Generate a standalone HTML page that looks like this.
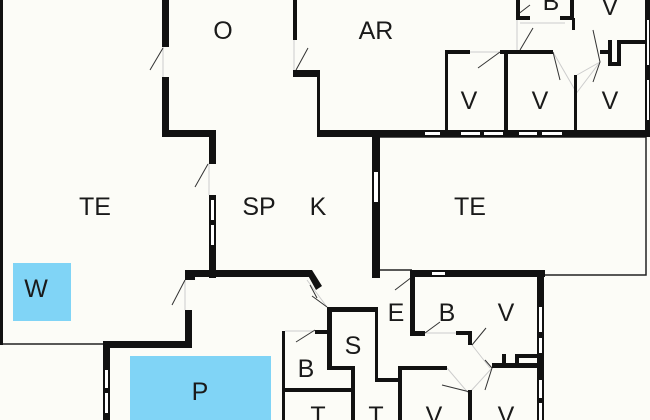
<!DOCTYPE html>
<html><head><style>
html,body{margin:0;padding:0;background:#fcfcf7;}
svg{display:block}
text{font-family:"Liberation Sans",sans-serif;font-size:25px;fill:#1a1a1a;text-anchor:middle;}
</style></head><body>
<svg width="650" height="420" viewBox="0 0 650 420" xmlns="http://www.w3.org/2000/svg">
<rect width="650" height="420" fill="#fcfcf7"/>
<!-- blue areas -->
<rect x="13" y="263" width="58" height="58" fill="#80d4f6"/>
<rect x="130" y="356" width="141" height="64" fill="#80d4f6"/>
<!-- thin outlines -->
<g stroke="#222" stroke-width="1.5" fill="none">
<path d="M1 0 V344 H104"/>
<path d="M380 137 H646 V275 H545"/>
<path d="M380 270 H412"/>
</g>
<!-- light door gap lines -->
<g stroke="#ccc" stroke-width="1" fill="none">
<path d="M163 47 V77 M209 163 V195 M294 40 V70 M185 280 V310"/>
<path d="M470 52 H500 M517 20 V52 M520 23 H565 M553 52 L575 90 M577 75 L600 62 M600 62 L575 95"/>
<path d="M307 280 L327 307 M328 307 V330 M285 331 H315 M425 333 H456 M472 345 L490 368 M447 368 L470 395 M470 392 L492 368"/>
</g>
<!-- door swing lines -->
<g stroke="#333" stroke-width="1" fill="none">
<path d="M163 48 L150 70 M208 164 L195 187 M308 48 L296 70 M185 280 L172 305"/>
<path d="M500 52 L478 68 M533 28 L520 50 M553 52 L560 80 M593 30 L600 62 L593 82 M530 5 L517 15"/>
<path d="M317 298 L310 285 M327 307 L312 296 M315 330 L296 342 M412 277 L395 290 M425 333 L440 322 M472 345 L486 328 M485 360 L492 368 L485 390 M470 392 L442 385"/>
</g>
<!-- walls -->
<g fill="#111">
<rect x="0" y="0" width="3" height="345"/>
<rect x="162" y="0" width="7" height="47"/>
<rect x="162" y="77" width="7" height="60"/>
<rect x="162" y="130" width="54" height="7"/>
<rect x="209" y="130" width="7" height="34"/>
<rect x="209" y="195" width="7" height="83"/>
<rect x="293" y="0" width="4" height="40"/>
<rect x="293" y="70" width="27" height="7"/>
<rect x="317" y="70" width="3" height="67"/>
<rect x="317" y="130" width="333" height="7"/>
<rect x="372" y="130" width="8" height="148"/>
<rect x="645" y="0" width="5" height="137"/>
<!-- upper right rooms -->
<rect x="445" y="50" width="25" height="4"/>
<rect x="445" y="50" width="3" height="82"/>
<rect x="500" y="50" width="53" height="4"/>
<rect x="504" y="50" width="4" height="82"/>
<rect x="574" y="75" width="3" height="57"/>
<rect x="516" y="0" width="4" height="20"/>
<rect x="516" y="16" width="14" height="4"/>
<rect x="560" y="16" width="12" height="4"/>
<rect x="570" y="0" width="4" height="20"/>
<rect x="572" y="18" width="3" height="12"/>
<rect x="600" y="50" width="12" height="4"/>
<rect x="608" y="40" width="4" height="25"/>
<rect x="608" y="62" width="12" height="4"/>
<rect x="617" y="40" width="4" height="26"/>
<rect x="617" y="40" width="30" height="4"/>
<!-- lower left -->
<rect x="185" y="270" width="125" height="7"/>
<polygon points="305,270 312,270 322,286 316,290"/>
<rect x="185" y="270" width="10" height="10"/>
<rect x="185" y="310" width="7" height="38"/>
<rect x="103" y="341" width="89" height="7"/>
<rect x="103" y="341" width="7" height="79"/>
<!-- S box etc -->
<rect x="327" y="307" width="51" height="5"/>
<rect x="327" y="307" width="5" height="62"/>
<rect x="315" y="330" width="14" height="4"/>
<rect x="327" y="366" width="28" height="4"/>
<rect x="375" y="307" width="3" height="75"/>
<rect x="375" y="378" width="27" height="4"/>
<rect x="398" y="366" width="4" height="54"/>
<rect x="398" y="366" width="49" height="4"/>
<rect x="282" y="331" width="3" height="89"/>
<rect x="282" y="388" width="73" height="4"/>
<rect x="351" y="368" width="4" height="52"/>
<rect x="468" y="390" width="4" height="30"/>
<!-- E/B/V -->
<rect x="410" y="270" width="135" height="7"/>
<rect x="410" y="270" width="5" height="66"/>
<rect x="410" y="331" width="15" height="5"/>
<rect x="456" y="331" width="16" height="4"/>
<rect x="468" y="331" width="4" height="14"/>
<rect x="537" y="270" width="7" height="150"/>
<rect x="492" y="363" width="50" height="5"/>
<rect x="502" y="354" width="4" height="12"/>
<rect x="515" y="354" width="27" height="4"/>
<rect x="515" y="354" width="4" height="12"/>
</g>
<!-- windows -->
<g fill="#fff">
<rect x="425" y="132" width="15" height="3"/>
<rect x="461" y="132" width="19" height="3"/>
<rect x="484" y="132" width="19" height="3"/>
<rect x="519" y="132" width="18" height="3"/>
<rect x="542" y="132" width="20" height="3"/>
<rect x="374" y="172" width="4" height="30"/>
<rect x="211" y="200" width="3" height="20"/>
<rect x="211" y="225" width="3" height="20"/>
<rect x="105" y="370" width="3" height="18"/>
<rect x="105" y="393" width="3" height="20"/>
<rect x="432" y="272" width="13" height="3"/>
<rect x="539" y="307" width="3" height="25"/>
<rect x="539" y="338" width="3" height="15"/>
<rect x="539" y="380" width="3" height="18"/>
<rect x="539" y="403" width="3" height="17"/>
<rect x="647" y="20" width="2" height="45"/>
<rect x="647" y="80" width="2" height="40"/>
</g>
<!-- labels -->
<text x="223" y="39">O</text>
<text x="376" y="39">AR</text>
<text x="610" y="15">V</text>
<text x="551" y="10" font-size="20">B</text>
<text x="469" y="109">V</text>
<text x="540" y="109">V</text>
<text x="610" y="109">V</text>
<text x="95" y="215">TE</text>
<text x="259" y="215">SP</text>
<text x="318" y="215">K</text>
<text x="470" y="215">TE</text>
<text x="36" y="297">W</text>
<text x="396" y="321">E</text>
<text x="447" y="321">B</text>
<text x="506" y="321">V</text>
<text x="353" y="354">S</text>
<text x="306" y="377">B</text>
<text x="200" y="400">P</text>
<text x="318" y="424">T</text>
<text x="376" y="424">T</text>
<text x="434" y="424">V</text>
<text x="506" y="424">V</text>
</svg>
</body></html>
